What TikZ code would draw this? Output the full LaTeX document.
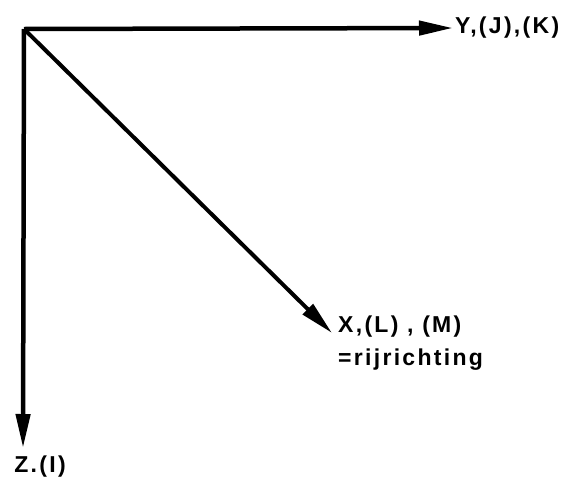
\documentclass[tikz,border=0pt]{standalone}
\usepackage{fontspec}
\setmainfont{Liberation Sans}[LetterSpace=10]
\usepackage{tikz}
\usetikzlibrary{arrows.meta}

\begin{document}
\begin{tikzpicture}[
  x=1pt, y=-1pt,
  every node/.style={font=\fontsize{23}{27}\selectfont\bfseries, inner sep=0pt},
  axis/.style={-{Triangle[length=34pt, width=14pt]}, line width=4.5pt},
  diag/.style={axis, line width=4pt}
]
  \useasboundingbox (0,0) rectangle (568,480);
  \coordinate (origin) at (24,29);
  \coordinate (ytip) at (453,28);
  \coordinate (xtip) at (332,333);
  \coordinate (ztip) at (23,448);

  \node[anchor=west] (ylab) at (455,28) {Y,(J),(K)};
  \node[anchor=north west, align=left] (xlab) at (338,316)
    {X,(L) , (M)\\[6pt]=rijrichting};
  \node (zlab) at (40,467) {Z.(I)};

  \draw[axis] (origin) -- (ytip);
  \draw[diag] (origin) -- (xtip);
  \draw[axis] (origin) -- (ztip);
\end{tikzpicture}
\end{document}
